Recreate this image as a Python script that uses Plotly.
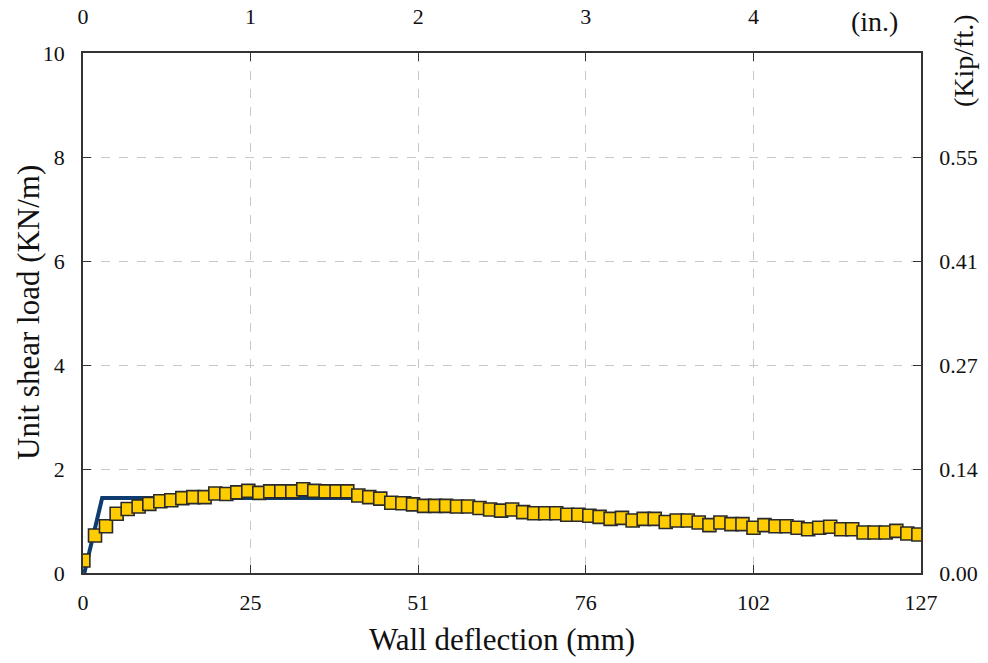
import plotly.graph_objects as go

# Measured unit shear load vs wall deflection
deflection_mm = [
    0.05, 1.82, 3.48, 5.10, 6.77, 8.43, 10.05, 11.72, 13.38, 15.05,
    16.72, 18.43, 20.05, 21.72, 23.38, 25.05, 26.72, 28.38, 30.05, 31.72,
    33.38, 35.05, 36.77, 38.43, 40.05, 41.72, 43.38, 45.05, 46.72, 48.40,
    50.02, 51.69, 53.36, 55.03, 56.69, 58.36, 60.09, 61.70, 63.37, 65.04,
    66.71, 68.38, 70.05, 71.72, 73.39, 75.06, 76.73, 78.29, 79.96, 81.68,
    83.30, 84.97, 86.64, 88.31, 89.98, 91.65, 93.31, 94.93, 96.60, 98.27,
    99.94, 101.61, 103.28, 104.95, 106.62, 108.29, 109.90, 111.57, 113.24, 114.91,
    116.58, 118.30, 119.97, 121.64, 123.26, 124.93, 126.60,
]
shear_kn_m = [
    0.24, 0.72, 0.90, 1.14, 1.23, 1.28, 1.33, 1.38, 1.40, 1.44,
    1.46, 1.46, 1.53, 1.52, 1.55, 1.58, 1.54, 1.57, 1.57, 1.57,
    1.61, 1.58, 1.57, 1.57, 1.57, 1.49, 1.46, 1.43, 1.35, 1.34,
    1.32, 1.29, 1.29, 1.29, 1.28, 1.28, 1.25, 1.22, 1.20, 1.22,
    1.17, 1.15, 1.15, 1.15, 1.12, 1.12, 1.10, 1.08, 1.04, 1.06,
    1.01, 1.04, 1.04, 0.98, 1.01, 1.01, 0.97, 0.92, 0.97, 0.94,
    0.94, 0.87, 0.92, 0.90, 0.90, 0.87, 0.84, 0.87, 0.89, 0.84,
    0.84, 0.78, 0.78, 0.78, 0.81, 0.76, 0.74,
]

# Bilinear model curve
model_mm = [0.2, 2.9, 49.8]
model_kn_m = [0.0, 1.44, 1.44]

# Axis ticks
MM_PER_IN = 25.4
KN_M_TO_KIP_FT = 0.068522
x_tick_mm = [0, 25.4, 50.8, 76.2, 101.6, 127.0]
x_tick_labels = ["0", "25", "51", "76", "102", "127"]
in_ticks = [0, 1, 2, 3, 4]
y_ticks = [0, 2, 4, 6, 8, 10]
kip_ticks_kn = [0, 2, 4, 6, 8]

X_MAX = 127.0
Y_MAX = 10.0

FONT = "Liberation Serif"
FRAME = "#333333"
GRID = "#c8c8c8"
INK = "#111111"

fig = go.Figure()

fig.add_trace(go.Scatter(
    x=model_mm, y=model_kn_m, mode="lines",
    line=dict(color="#0f3c6e", width=4),
    showlegend=False, hoverinfo="skip",
))
fig.add_trace(go.Scatter(
    x=deflection_mm, y=shear_kn_m, mode="markers",
    marker=dict(symbol="square", size=13, color="#FFCC00",
                line=dict(color="#2a2a2a", width=1.6)),
    showlegend=False,
))
# Secondary axes (inches on top, kip/ft on right)
fig.add_trace(go.Scatter(
    x=[v / MM_PER_IN for v in deflection_mm],
    y=[v * KN_M_TO_KIP_FT for v in shear_kn_m],
    xaxis="x2", yaxis="y2", mode="markers",
    marker=dict(opacity=0), showlegend=False, hoverinfo="skip",
))

tickfont = dict(family=FONT, size=22, color=INK)
titlefont = dict(family=FONT, size=31, color=INK)
unitfont = dict(family=FONT, size=28, color=INK)
common = dict(
    ticks="inside", ticklen=8, tickcolor=FRAME, tickwidth=1.2,
    showline=True, linecolor=FRAME, linewidth=1.5,
    zeroline=False, tickfont=tickfont, automargin=False,
)

fig.update_layout(
    width=988, height=663,
    margin=dict(l=83, r=67, t=53, b=90),
    plot_bgcolor="white", paper_bgcolor="white",
    font=dict(family=FONT, color=INK),
    xaxis=dict(
        range=[0, X_MAX], tickvals=x_tick_mm, ticktext=x_tick_labels,
        showgrid=True, gridcolor=GRID, griddash="dash", gridwidth=1,
        ticklabelstandoff=9,
        **common,
    ),
    xaxis2=dict(
        range=[0, X_MAX / MM_PER_IN], tickvals=in_ticks,
        overlaying="x", side="top", showgrid=False,
        ticklabelstandoff=18,
        **common,
    ),
    yaxis=dict(
        range=[0, Y_MAX], tickvals=y_ticks,
        showgrid=True, gridcolor=GRID, griddash="dash", gridwidth=1,
        ticklabelstandoff=12,
        **common,
    ),
    yaxis2=dict(
        range=[0, Y_MAX * KN_M_TO_KIP_FT],
        tickvals=[v * KN_M_TO_KIP_FT for v in kip_ticks_kn],
        ticktext=[f"{v * KN_M_TO_KIP_FT:.2f}" for v in kip_ticks_kn],
        overlaying="y", side="right", showgrid=False,
        ticklabelstandoff=12,
        **common,
    ),
    annotations=[
        # Axis titles
        dict(text="Wall deflection (mm)", xref="paper", yref="paper",
             x=0.5, y=0.0, xanchor="center", yanchor="middle", yshift=-66,
             showarrow=False, font=titlefont),
        dict(text="Unit shear load (KN/m)", xref="paper", yref="paper",
             x=0.0, y=0.5, xanchor="center", yanchor="middle", xshift=-55,
             textangle=-90, showarrow=False, font=titlefont),
        # Unit labels for the secondary axes
        dict(text="(in.)", xref="paper", yref="paper", x=0.945, y=1.0,
             xanchor="center", yanchor="bottom", yshift=14, showarrow=False,
             font=unitfont),
        dict(text="(Kip/ft.)", xref="paper", yref="paper", x=1.0, y=1.0,
             xanchor="center", yanchor="middle", xshift=42, yshift=-8,
             textangle=-90, showarrow=False, font=unitfont),
    ],
)

fig.write_html("out.html")
